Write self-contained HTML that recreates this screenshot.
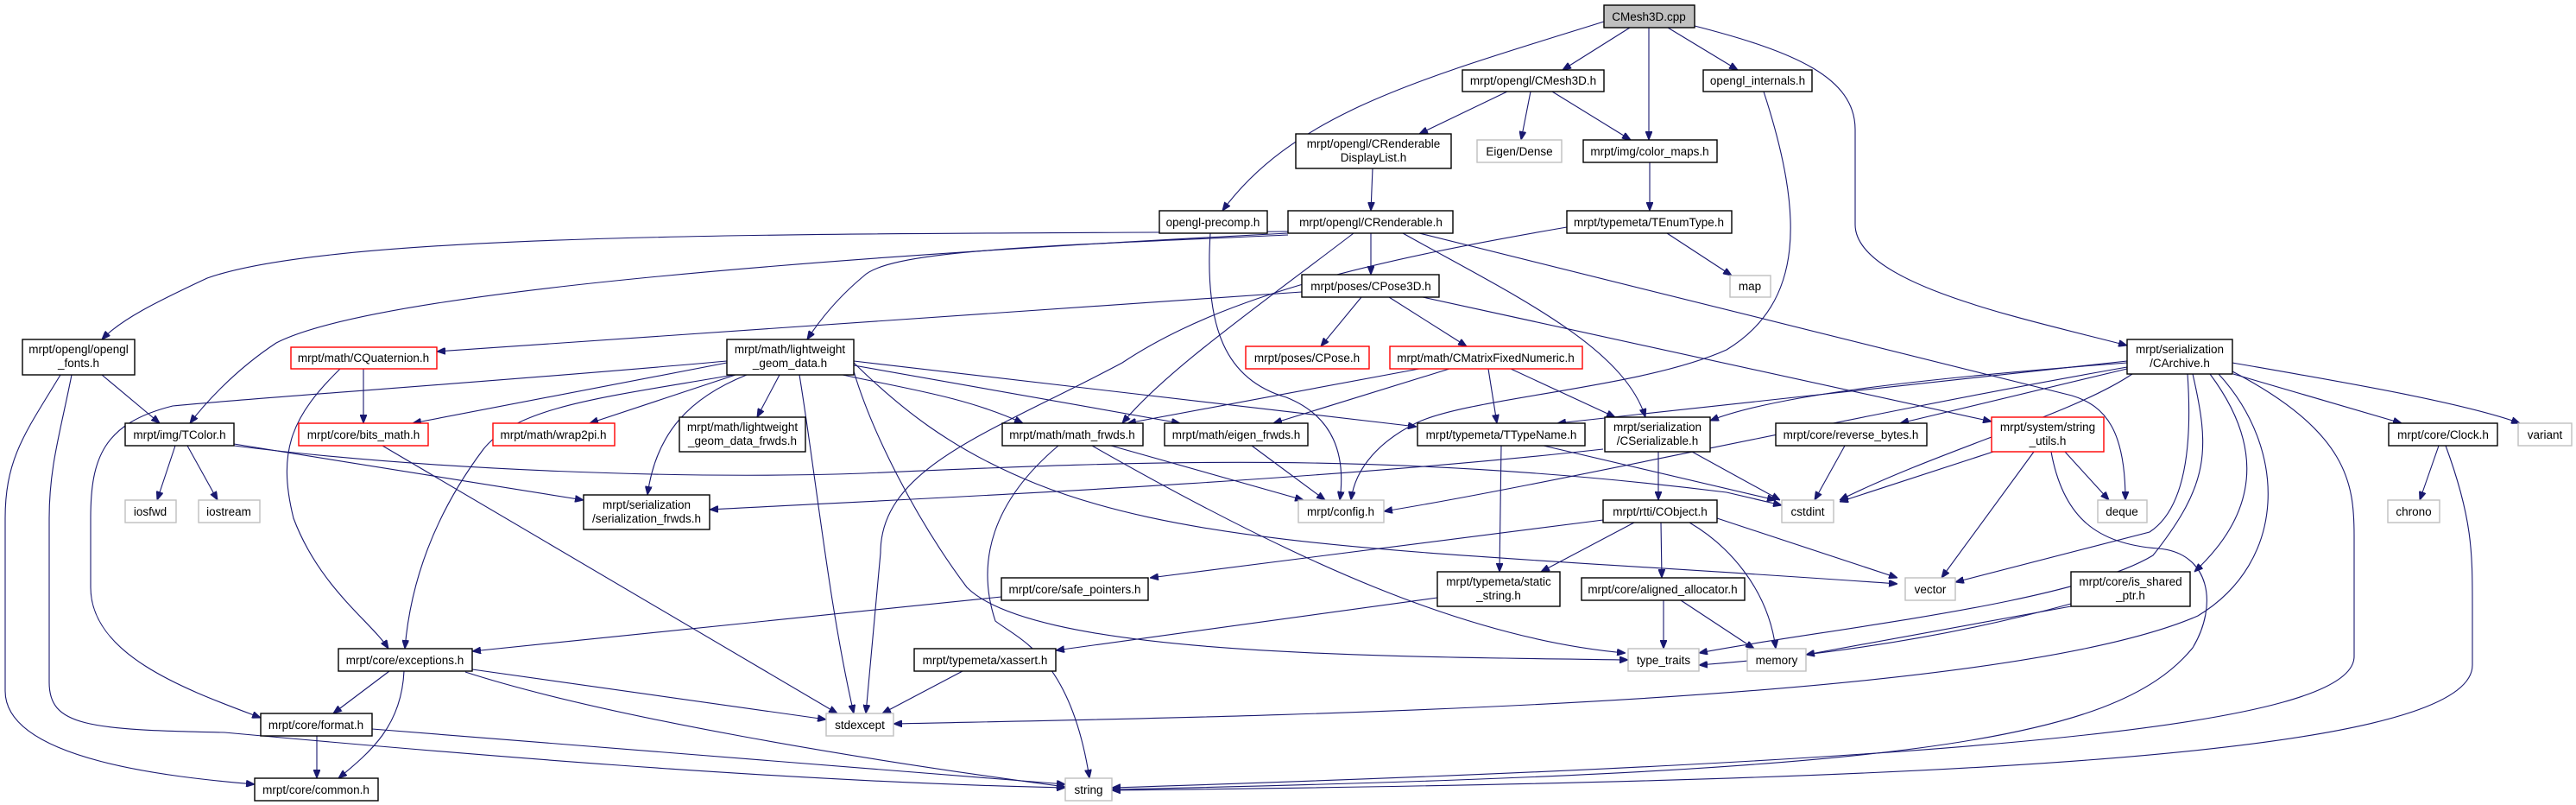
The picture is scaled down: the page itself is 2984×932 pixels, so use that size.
<!DOCTYPE html>
<html><head><meta charset="utf-8"><style>
html,body{margin:0;padding:0;background:#fff;}
svg{display:block;}
text{font-family:"Liberation Sans",sans-serif;font-size:13.5px;fill:#000;text-anchor:middle;}
.n{fill:#fff;stroke:#000;stroke-width:1.4;}
.g{fill:#fff;stroke:#bfbfbf;stroke-width:1.4;}
.r{fill:#fff;stroke:#ff0000;stroke-width:1.4;}
.e{fill:none;stroke:#191970;stroke-width:1.1;marker-end:url(#a);}
</style></head><body>
<svg width="2984" height="932" viewBox="0 0 2984 932" xmlns="http://www.w3.org/2000/svg">
<defs><marker id="a" viewBox="0 0 10 8" refX="10" refY="4" markerWidth="10" markerHeight="8" markerUnits="userSpaceOnUse" orient="auto"><path d="M0,0 L10,4 L0,8 z" fill="#191970" stroke="#191970"/></marker></defs>
<g>
<path class="e" d="M1888,32 L1810,81"/>
<path class="e" d="M1932,32 L2013,81"/>
<path class="e" d="M1910,32 L1910,162"/>
<path class="e" d="M1858,25 C1650,90 1500,130 1416,244"/>
<path class="e" d="M1963,30 C2080,60 2149,90 2149,150 L2149,260 C2149,330 2350,370 2464,400"/>
<path class="e" d="M1746,106 L1644,155"/>
<path class="e" d="M1773,106 L1762,162"/>
<path class="e" d="M1798,106 L1889,162"/>
<path class="e" d="M2043,106 C2090,250 2090,350 2000,405 C1900,450 1700,460 1640,490 C1600,510 1570,540 1565,579"/>
<path class="e" d="M1590,195 L1588,244"/>
<path class="e" d="M1911,188 L1911,244"/>
<path class="e" d="M1931,270 L2006,319"/>
<path class="e" d="M1815,263 C1600,300 1420,340 1300,420 C1150,500 1020,540 1020,640 L1003,826"/>
<path class="e" d="M1402,270 C1395,380 1420,440 1490,460 C1540,480 1560,520 1552,579"/>
<path class="e" d="M1588,270 L1588,318"/>
<path class="e" d="M1492,268 C1000,272 400,265 240,322 C180,350 140,370 118,393"/>
<path class="e" d="M1492,270 C1100,290 450,330 320,397 C270,430 235,470 220,490"/>
<path class="e" d="M1492,272 C1200,285 1030,290 1000,320 C970,345 950,370 935,393"/>
<path class="e" d="M1568,270 C1450,360 1350,430 1300,490"/>
<path class="e" d="M1625,270 C1750,340 1880,400 1906,483"/>
<path class="e" d="M1644,270 L2400,458 C2440,470 2462,500 2462,579"/>
<path class="e" d="M1577,344 L1530,401"/>
<path class="e" d="M1609,344 L1699,401"/>
<path class="e" d="M1508,338 L506,407"/>
<path class="e" d="M1648,344 L2307,488"/>
<path class="e" d="M1644,427 L1306,490"/>
<path class="e" d="M1679,427 L1475,490"/>
<path class="e" d="M1724,427 L1734,490"/>
<path class="e" d="M1750,427 L1871,483"/>
<path class="e" d="M2464,418 L1804,490"/>
<path class="e" d="M2464,420 C2200,440 2050,460 1981,487"/>
<path class="e" d="M2464,425 C2150,480 1800,560 1603,592"/>
<path class="e" d="M2464,427 L2201,490"/>
<path class="e" d="M2470,433 C2400,480 2250,520 2131,579"/>
<path class="e" d="M2534,433 C2540,520 2530,590 2490,616 L2265,674"/>
<path class="e" d="M2540,433 C2560,520 2560,560 2494,643 C2400,700 2100,730 1968,756"/>
<path class="e" d="M2560,433 C2610,500 2630,580 2542,662"/>
<path class="e" d="M2570,433 C2650,520 2650,650 2546,713 C2300,820 1400,830 1035,838"/>
<path class="e" d="M2586,430 C2720,500 2727,560 2727,620 L2727,760 C2727,840 2300,880 1288,912"/>
<path class="e" d="M2587,433 L2782,490"/>
<path class="e" d="M2586,420 C2700,440 2850,465 2919,490"/>
<path class="e" d="M2399,699 C2250,740 2100,760 1968,770"/>
<path class="e" d="M2399,702 L2092,758"/>
<path class="e" d="M1927,695 L1927,751"/>
<path class="e" d="M1947,695 L2032,751"/>
<path class="e" d="M1957,605 C2000,630 2048,680 2057,751"/>
<path class="e" d="M1989,600 L2198,669"/>
<path class="e" d="M1893,605 L1785,662"/>
<path class="e" d="M1924,605 L1925,669"/>
<path class="e" d="M1857,602 L1332,669"/>
<path class="e" d="M1739,516 L1737,662"/>
<path class="e" d="M1788,516 L2057,579"/>
<path class="e" d="M1960,523 L2062,579"/>
<path class="e" d="M1921,523 L1921,579"/>
<path class="e" d="M1857,520 C1500,560 1000,580 822,590"/>
<path class="e" d="M271,514 L676,579"/>
<path class="e" d="M271,516 C500,545 800,555 1000,548 C1300,535 1600,520 2000,570 L2064,585"/>
<path class="e" d="M203,516 L182,579"/>
<path class="e" d="M217,516 L252,579"/>
<path class="e" d="M118,434 L185,490"/>
<path class="e" d="M70,434 C30,500 6,530 6,600 L6,800 C6,880 200,900 295,908"/>
<path class="e" d="M83,434 C70,500 57,540 57,600 L57,790 C57,840 100,845 260,848 C500,870 900,905 1234,912"/>
<path class="e" d="M421,427 L421,490"/>
<path class="e" d="M394,427 C340,480 320,520 340,600 C370,680 430,720 450,751"/>
<path class="e" d="M443,516 L970,826"/>
<path class="e" d="M842,418 C600,440 300,460 200,470 C120,490 105,530 105,600 L105,680 C105,760 220,800 302,831"/>
<path class="e" d="M850,434 C700,460 600,470 560,520 C500,600 475,680 469,751"/>
<path class="e" d="M842,420 L478,490"/>
<path class="e" d="M852,434 L683,490"/>
<path class="e" d="M865,434 C800,460 760,500 750,573"/>
<path class="e" d="M903,434 L877,483"/>
<path class="e" d="M926,434 C945,550 960,700 989,826"/>
<path class="e" d="M976,434 C1050,450 1120,460 1185,490"/>
<path class="e" d="M989,423 L1367,490"/>
<path class="e" d="M989,418 L1641,494"/>
<path class="e" d="M989,430 C1010,500 1060,600 1120,680 C1200,760 1600,760 1886,764"/>
<path class="e" d="M989,420 C1040,470 1100,520 1200,560 C1400,640 1700,640 2198,676"/>
<path class="e" d="M1226,516 C1150,580 1130,650 1153,719 C1180,740 1240,760 1262,901"/>
<path class="e" d="M1265,516 C1500,650 1700,740 1883,756"/>
<path class="e" d="M1287,516 L1510,579"/>
<path class="e" d="M1450,516 L1535,579"/>
<path class="e" d="M1160,691 L547,754"/>
<path class="e" d="M1665,692 L1223,753"/>
<path class="e" d="M1115,777 L1022,826"/>
<path class="e" d="M451,777 L386,826"/>
<path class="e" d="M468,777 C465,840 430,870 392,901"/>
<path class="e" d="M547,775 L957,833"/>
<path class="e" d="M539,778 C700,830 1000,880 1234,911"/>
<path class="e" d="M367,852 L367,901"/>
<path class="e" d="M431,844 L1234,908"/>
<path class="e" d="M2309,523 L2131,581"/>
<path class="e" d="M2356,523 L2249,669"/>
<path class="e" d="M2392,523 L2443,579"/>
<path class="e" d="M2376,523 C2390,600 2430,630 2500,635 C2560,640 2570,700 2540,750 C2450,860 2200,895 1288,914"/>
<path class="e" d="M2137,516 L2102,579"/>
<path class="e" d="M2825,516 L2803,579"/>
<path class="e" d="M2833,516 C2864,600 2864,640 2864,700 L2864,770 C2864,880 2200,905 1288,915"/>
</g>
<g>
<rect x="1858" y="6" width="105" height="26" fill="#bfbfbf" stroke="#000" stroke-width="1.4"/><text x="1910" y="24">CMesh3D.cpp</text>
<rect class="n" x="1694" y="81" width="164" height="25"/><text x="1776" y="98">mrpt/opengl/CMesh3D.h</text>
<rect class="n" x="1973" y="81" width="126" height="25"/><text x="2036" y="98">opengl_internals.h</text>
<rect class="n" x="1501" y="155" width="180" height="40"/><text x="1591" y="171">mrpt/opengl/CRenderable</text><text x="1591" y="187">DisplayList.h</text>
<rect class="g" x="1711" y="162" width="98" height="26"/><text x="1760" y="180">Eigen/Dense</text>
<rect class="n" x="1834" y="162" width="155" height="26"/><text x="1911" y="180">mrpt/img/color_maps.h</text>
<rect class="n" x="1343" y="244" width="125" height="26"/><text x="1405" y="262">opengl-precomp.h</text>
<rect class="n" x="1492" y="244" width="191" height="26"/><text x="1588" y="262">mrpt/opengl/CRenderable.h</text>
<rect class="n" x="1815" y="244" width="191" height="26"/><text x="1910" y="262">mrpt/typemeta/TEnumType.h</text>
<rect class="g" x="2004" y="319" width="47" height="25"/><text x="2027" y="336">map</text>
<rect class="n" x="1508" y="318" width="159" height="26"/><text x="1588" y="336">mrpt/poses/CPose3D.h</text>
<rect class="r" x="1443" y="401" width="143" height="26"/><text x="1514" y="419">mrpt/poses/CPose.h</text>
<rect class="r" x="1610" y="401" width="223" height="26"/><text x="1721" y="419">mrpt/math/CMatrixFixedNumeric.h</text>
<rect class="n" x="2464" y="393" width="122" height="40"/><text x="2525" y="409">mrpt/serialization</text><text x="2525" y="425">/CArchive.h</text>
<rect class="n" x="26" y="393" width="130" height="41"/><text x="91" y="409">mrpt/opengl/opengl</text><text x="91" y="425">_fonts.h</text>
<rect class="r" x="337" y="402" width="169" height="25"/><text x="421" y="419">mrpt/math/CQuaternion.h</text>
<rect class="n" x="842" y="393" width="147" height="41"/><text x="915" y="409">mrpt/math/lightweight</text><text x="915" y="425">_geom_data.h</text>
<rect class="n" x="145" y="490" width="126" height="26"/><text x="208" y="508">mrpt/img/TColor.h</text>
<rect class="r" x="346" y="490" width="150" height="26"/><text x="421" y="508">mrpt/core/bits_math.h</text>
<rect class="r" x="571" y="490" width="141" height="26"/><text x="641" y="508">mrpt/math/wrap2pi.h</text>
<rect class="n" x="787" y="483" width="146" height="40"/><text x="860" y="499">mrpt/math/lightweight</text><text x="860" y="515">_geom_data_frwds.h</text>
<rect class="g" x="145" y="579" width="59" height="26"/><text x="174" y="597">iosfwd</text>
<rect class="g" x="230" y="579" width="71" height="26"/><text x="265" y="597">iostream</text>
<rect class="n" x="676" y="573" width="146" height="40"/><text x="749" y="589">mrpt/serialization</text><text x="749" y="605">/serialization_frwds.h</text>
<rect class="n" x="392" y="751" width="155" height="26"/><text x="469" y="769">mrpt/core/exceptions.h</text>
<rect class="n" x="302" y="826" width="129" height="26"/><text x="366" y="844">mrpt/core/format.h</text>
<rect class="n" x="295" y="901" width="143" height="26"/><text x="366" y="919">mrpt/core/common.h</text>
<rect class="g" x="957" y="826" width="78" height="26"/><text x="996" y="844">stdexcept</text>
<rect class="n" x="1161" y="490" width="163" height="26"/><text x="1242" y="508">mrpt/math/math_frwds.h</text>
<rect class="n" x="1349" y="490" width="166" height="26"/><text x="1432" y="508">mrpt/math/eigen_frwds.h</text>
<rect class="n" x="1642" y="490" width="194" height="26"/><text x="1739" y="508">mrpt/typemeta/TTypeName.h</text>
<rect class="n" x="1859" y="483" width="122" height="40"/><text x="1920" y="499">mrpt/serialization</text><text x="1920" y="515">/CSerializable.h</text>
<rect class="g" x="1504" y="579" width="99" height="26"/><text x="1553" y="597">mrpt/config.h</text>
<rect class="n" x="1857" y="579" width="132" height="26"/><text x="1923" y="597">mrpt/rtti/CObject.h</text>
<rect class="n" x="1160" y="669" width="170" height="26"/><text x="1245" y="687">mrpt/core/safe_pointers.h</text>
<rect class="n" x="1665" y="662" width="142" height="40"/><text x="1736" y="678">mrpt/typemeta/static</text><text x="1736" y="694">_string.h</text>
<rect class="n" x="1832" y="669" width="189" height="26"/><text x="1926" y="687">mrpt/core/aligned_allocator.h</text>
<rect class="g" x="1886" y="751" width="82" height="26"/><text x="1927" y="769">type_traits</text>
<rect class="n" x="1059" y="751" width="164" height="26"/><text x="1141" y="769">mrpt/typemeta/xassert.h</text>
<rect class="g" x="1234" y="901" width="54" height="26"/><text x="1261" y="919">string</text>
<rect class="n" x="2057" y="490" width="175" height="26"/><text x="2144" y="508">mrpt/core/reverse_bytes.h</text>
<rect class="r" x="2307" y="483" width="130" height="40"/><text x="2372" y="499">mrpt/system/string</text><text x="2372" y="515">_utils.h</text>
<rect class="n" x="2767" y="490" width="126" height="26"/><text x="2830" y="508">mrpt/core/Clock.h</text>
<rect class="g" x="2917" y="490" width="62" height="26"/><text x="2948" y="508">variant</text>
<rect class="g" x="2064" y="579" width="60" height="26"/><text x="2094" y="597">cstdint</text>
<rect class="g" x="2430" y="579" width="57" height="26"/><text x="2458" y="597">deque</text>
<rect class="g" x="2766" y="579" width="60" height="26"/><text x="2796" y="597">chrono</text>
<rect class="g" x="2207" y="669" width="58" height="26"/><text x="2236" y="687">vector</text>
<rect class="n" x="2399" y="662" width="138" height="40"/><text x="2468" y="678">mrpt/core/is_shared</text><text x="2468" y="694">_ptr.h</text>
<rect class="g" x="2024" y="751" width="68" height="26"/><text x="2058" y="769">memory</text>
</g>
</svg>
</body></html>
